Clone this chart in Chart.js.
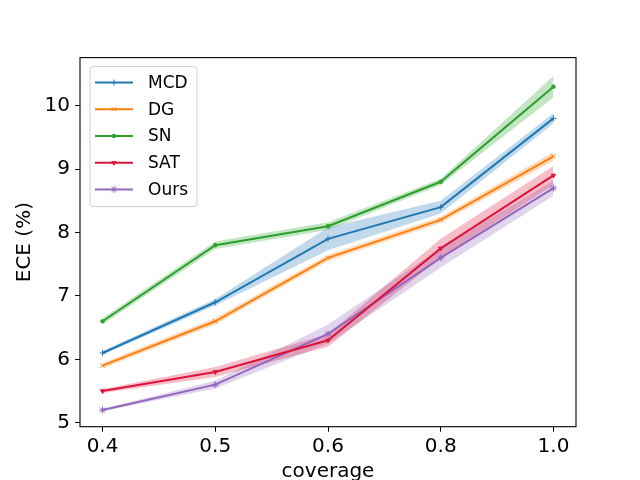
<!DOCTYPE html>
<html>
<head>
<meta charset="utf-8">
<script src="https://cdn.jsdelivr.net/npm/chart.js@4.4.1/dist/chart.umd.min.js"></script>
<style>
  html, body { margin: 0; padding: 0; background: #fff; }
  #wrap { width: 640px; height: 480px; }
</style>
</head>
<body>
<div id="wrap"><canvas id="eceChart" width="640" height="480"></canvas></div>
<script>
// values
const coverage = ['0.4', '0.5', '0.6', '0.8', '1.0'];

const mcd     = [6.1, 6.9, 7.9, 8.4, 9.8];
const mcdStd  = [0.03, 0.05, 0.18, 0.10, 0.08];
const dg      = [5.9, 6.6, 7.6, 8.2, 9.2];
const dgStd   = [0.04, 0.05, 0.05, 0.05, 0.07];
const sn      = [6.6, 7.8, 8.1, 8.8, 10.3];
const snStd   = [0.05, 0.06, 0.06, 0.05, 0.17];
const sat     = [5.5, 5.8, 6.3, 7.75, 8.9];
const satStd  = [0.03, 0.08, 0.10, 0.15, 0.15];
const ours    = [5.2, 5.6, 6.4, 7.6, 8.7];
const oursStd = [0.02, 0.06, 0.15, 0.15, 0.12];

const yTicks = [5, 6, 7, 8, 9, 10];

const series = [
  { label: 'MCD',  values: mcd,  std: mcdStd,  color: '31,119,180', point: 'cross',    radius: 3,   rot: 0 },
  { label: 'DG',   values: dg,   std: dgStd,   color: '255,127,14', point: 'crossRot', radius: 3,   rot: 0 },
  { label: 'SN',   values: sn,   std: snStd,   color: '44,160,44',  point: 'circle',   radius: 1.8, rot: 0 },
  { label: 'SAT',  values: sat,  std: satStd,  color: '220,20,60',  point: 'triangle', radius: 2.5, rot: 180 },
  { label: 'Ours', values: ours, std: oursStd, color: '148,103,189', point: 'star',    radius: 3.5, rot: 0 }
];

const toPoints = arr => arr.map((v, i) => ({ x: i, y: v }));

const datasets = [];
// lines first so they sit on top of the bands
series.forEach(s => {
  datasets.push({
    label: s.label,
    data: toPoints(s.values),
    borderColor: `rgb(${s.color})`,
    backgroundColor: `rgb(${s.color})`,
    borderWidth: 2,
    pointStyle: s.point,
    pointRadius: s.radius,
    pointRotation: s.rot,
    pointBorderWidth: 1,
    pointBorderColor: `rgb(${s.color})`,
    pointBackgroundColor: `rgb(${s.color})`,
    fill: false,
    tension: 0
  });
});
series.forEach(s => {
  const lowIdx = datasets.length;
  datasets.push({
    label: s.label + '_low',
    data: toPoints(s.values.map((v, i) => v - s.std[i])),
    borderColor: 'rgba(0,0,0,0)',
    borderWidth: 0,
    pointRadius: 0,
    fill: false
  });
  datasets.push({
    label: s.label + '_high',
    data: toPoints(s.values.map((v, i) => v + s.std[i])),
    borderColor: 'rgba(0,0,0,0)',
    borderWidth: 0,
    pointRadius: 0,
    backgroundColor: `rgba(${s.color},0.28)`,
    fill: lowIdx
  });
});

// matplotlib-like frame round the axes plus an inside legend
const frameAndLegend = {
  id: 'frameAndLegend',
  afterDraw(chart) {
    const { ctx, chartArea: a } = chart;
    ctx.save();
    ctx.strokeStyle = '#000';
    ctx.lineWidth = 1.1;
    ctx.strokeRect(a.left, a.top, a.right - a.left, a.bottom - a.top);

    const bx = a.left + 10, by = a.top + 9, bw = 107, bh = 140;
    ctx.fillStyle = 'rgba(255,255,255,0.8)';
    ctx.strokeStyle = '#d0d0d0';
    ctx.lineWidth = 1;
    ctx.beginPath();
    ctx.roundRect(bx, by, bw, bh, 3);
    ctx.fill();
    ctx.stroke();

    ctx.font = '17px "DejaVu Sans"';
    ctx.textBaseline = 'middle';
    series.forEach((s, i) => {
      const y = a.top + 25 + i * 26.7;
      ctx.strokeStyle = `rgb(${s.color})`;
      ctx.fillStyle = `rgb(${s.color})`;
      ctx.lineWidth = 2;
      ctx.beginPath();
      ctx.moveTo(bx + 5, y);
      ctx.lineTo(bx + 43, y);
      ctx.stroke();
      ctx.lineWidth = 1;
      Chart.helpers.drawPoint(ctx, { pointStyle: s.point, radius: s.radius, rotation: s.rot, borderWidth: 1 }, bx + 24, y);
      ctx.fillStyle = '#000';
      ctx.fillText(s.label, bx + 58, y + 1);
    });
    ctx.restore();
  }
};

const ctx = document.getElementById('eceChart').getContext('2d');
const chart = new Chart(ctx, {
  type: 'line',
  data: { datasets },
  options: {
    responsive: false,
    animation: false,
    layout: { padding: { top: 57.6, right: 64, left: 0, bottom: 0 } },
    scales: {
      x: {
        type: 'linear',
        min: -0.2,
        max: 4.2,
        afterFit: scale => { scale.height = 53.3; },
        afterBuildTicks: scale => { scale.ticks = coverage.map((c, i) => ({ value: i })); },
        ticks: {
          color: '#000',
          font: { family: 'DejaVu Sans', size: 20 },
          padding: 3,
          maxRotation: 0,
          callback: v => coverage[v]
        },
        grid: { display: true, drawOnChartArea: false, drawTicks: true, tickLength: 5, color: '#000' },
        border: { display: false },
        title: {
          display: true,
          text: 'coverage',
          color: '#000',
          font: { family: 'DejaVu Sans', size: 20, lineHeight: 0.8 },
          padding: { top: 0, bottom: 0 }
        }
      },
      y: {
        min: 4.937,
        max: 10.759,
        afterFit: scale => { scale.width = 80; },
        afterBuildTicks: scale => { scale.ticks = yTicks.map(v => ({ value: v })); },
        ticks: {
          color: '#000',
          font: { family: 'DejaVu Sans', size: 20 },
          padding: 5
        },
        grid: { display: true, drawOnChartArea: false, drawTicks: true, tickLength: 5, color: '#000' },
        border: { display: false },
        title: {
          display: true,
          text: 'ECE (%)',
          color: '#000',
          font: { family: 'DejaVu Sans', size: 20, lineHeight: 1.2 },
          padding: { top: 13, bottom: 0 }
        }
      }
    },
    plugins: {
      legend: { display: false },
      tooltip: { enabled: false }
    }
  },
  plugins: [frameAndLegend]
});
</script>
</body>
</html>
